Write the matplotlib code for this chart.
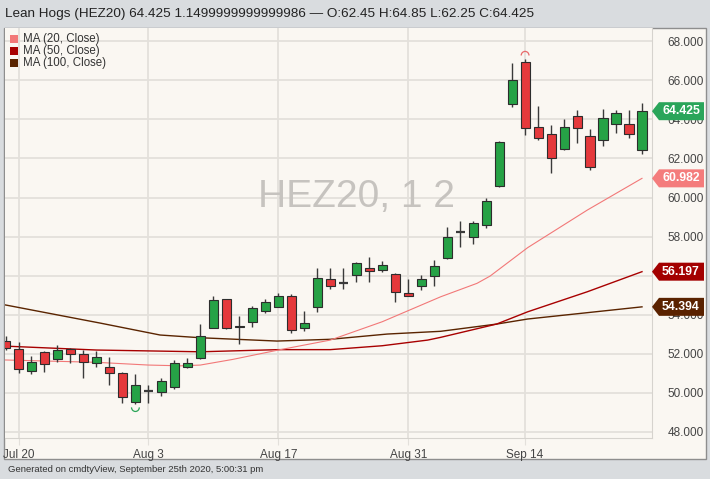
import matplotlib
matplotlib.use("Agg")
import matplotlib.pyplot as plt
from matplotlib.patches import Rectangle, Polygon, Arc
from matplotlib.transforms import IdentityTransform

# daily bars, Jul 17 -> Sep 25 2020 (index = trading day, Sep 7 holiday)
opens = [52.66, 52.22, 51.12, 52.06, 51.70, 52.22, 51.96, 51.50, 51.29, 50.98,
         49.50, 50.08, 50.04, 50.30, 51.29, 51.75, 53.32, 54.79, 53.34, 53.60,
         54.18, 54.37, 54.95, 53.32, 54.37, 55.81, 55.60, 56.03, 56.37, 56.28,
         56.06, 55.12, 55.46, 55.99, 56.88, 58.22, 57.96, 58.59, 60.59, 64.78,
         66.95, 63.60, 63.26, 62.47, 64.20, 63.17, 62.95, 63.75, 63.75, 62.45]
highs = [52.90, 52.60, 51.87, 52.14, 52.44, 52.27, 52.18, 52.14, 51.80, 51.04,
         50.95, 50.38, 50.73, 51.67, 51.75, 53.50, 54.95, 54.82, 53.92, 54.45,
         54.79, 55.09, 55.05, 54.18, 56.37, 56.37, 56.37, 56.68, 56.97, 56.74,
         56.14, 55.82, 56.05, 56.79, 58.50, 58.79, 58.79, 59.99, 62.90, 66.88,
         67.09, 64.69, 63.72, 64.03, 64.49, 63.51, 64.54, 64.49, 64.49, 64.85]
lows = [52.20, 51.00, 50.93, 51.07, 51.58, 51.50, 50.73, 51.29, 50.38, 49.45,
        49.41, 49.45, 49.83, 50.18, 51.24, 51.70, 53.30, 53.24, 52.48, 53.37,
        54.09, 54.37, 53.07, 53.17, 54.11, 55.29, 55.29, 55.68, 55.68, 56.20,
        54.66, 54.93, 55.24, 55.46, 56.85, 57.48, 57.62, 58.42, 60.55, 64.66,
        63.21, 62.95, 61.24, 62.45, 62.78, 61.41, 62.64, 63.29, 63.07, 62.25]
closes = [52.27, 51.19, 51.58, 51.48, 52.18, 51.96, 51.55, 51.84, 51.02, 49.78,
          50.41, 50.08, 50.58, 51.50, 51.50, 52.92, 54.74, 53.32, 53.40, 54.35,
          54.62, 54.95, 53.19, 53.56, 55.86, 55.46, 55.60, 56.66, 56.25, 56.56,
          55.17, 54.95, 55.81, 56.49, 57.96, 58.22, 58.68, 59.84, 62.86, 66.03,
          63.58, 63.04, 62.01, 63.60, 63.55, 61.55, 64.09, 64.35, 63.275, 64.425]

tick_pos = [1, 11, 21, 31, 40]
tick_labels = ["Jul 20", "Aug 3", "Aug 17", "Aug 31", "Sep 14"]
price_ticks = [48, 50, 52, 54, 56, 58, 60, 62, 64, 66, 68]

# moving averages (index, value)
ma20_idx = [0, 7, 11, 13.5, 15, 17.5, 21, 25, 29, 33.5, 36.3, 37.3, 40.2, 44.8, 49]
ma20_val = [51.67, 51.55, 51.41, 51.37, 51.41, 51.70, 52.18, 52.69, 53.63, 54.91,
            55.60, 55.97, 57.43, 59.36, 60.982]
ma50_idx = [0, 7, 15, 21, 25, 29, 32.5, 33.5, 37.8, 40.2, 44.8, 49]
ma50_val = [52.38, 52.18, 52.09, 52.20, 52.20, 52.40, 52.69, 52.83, 53.51, 54.14,
            55.17, 56.197]
ma100_idx = [0, 7.3, 11.9, 15, 20.9, 25, 29.4, 33.5, 37.8, 40.2, 49]
ma100_val = [54.49, 53.56, 52.95, 52.81, 52.64, 52.73, 53.00, 53.14, 53.51, 53.77, 54.394]

GREEN = "#26a246"
RED = "#e5393c"
C20, C50, C100 = "#f27878", "#a80000", "#5a2400"
BG = "#faf7f2"
GRID = "#e3e0db"
plt.rcParams["font.family"] = ["Liberation Sans", "DejaVu Sans"]

W, H = 710, 479
fig = plt.figure(figsize=(W / 100, H / 100), dpi=100, facecolor="#d9dcdf")

# chart box
fig.patches.append(Rectangle((4 / W, 20 / H), 702 / W, 431 / H, transform=fig.transFigure,
                             fc=BG, ec="#8e8e8e", lw=1, zorder=-5))

ax = fig.add_axes([5 / W, (H - 438) / H, 647 / W, 410 / H])
ax.set_zorder(1)
ax.set_facecolor(BG)
ax.set_xlim(-0.04, 49.77)
ax.set_ylim(47.67, 68.69)

# 56.000 sits fully under the MA50 tag, so it is left blank
ax.set_yticks(price_ticks)
ax.set_yticklabels(["" if p == 56 else f"{p:.3f}" for p in price_ticks])
ax.yaxis.tick_right()
ax.tick_params(axis="y", length=0, pad=11, labelsize=8.5, labelcolor="#444444")
ax.set_xticks(tick_pos)
ax.set_xticklabels(tick_labels)
ax.tick_params(axis="x", length=5, color=GRID, pad=3, labelsize=8.5, labelcolor="#444444")
ax.grid(True, color=GRID, lw=1.3, zorder=0)
ax.set_axisbelow(True)
for s in ["left", "top"]:
    ax.spines[s].set_visible(False)
ax.spines["right"].set_color("#d6d3ce")
ax.spines["bottom"].set_color("#d6d3ce")

# watermark
ax.text(27, 60.03, "HEZ20, 1 2", fontsize=28, color="#c6c3bf", ha="center", va="center", zorder=1)

# moving averages
ax.plot(ma100_idx, ma100_val, color=C100, lw=1.0, zorder=2)
ax.plot(ma50_idx, ma50_val, color=C50, lw=1.0, zorder=2)
ax.plot(ma20_idx, ma20_val, color=C20, lw=0.8, zorder=2)

# candles
for i, (o, h, l, c) in enumerate(zip(opens, highs, lows, closes)):
    ax.vlines(i, l, h, color="#3a3a3a", lw=1.0, zorder=3)
    if abs(c - o) < 0.03:
        ax.hlines(o, i - 0.35, i + 0.35, color="#3a3a3a", lw=1.6, zorder=4)
    else:
        ax.add_patch(Rectangle((i - 0.35, min(o, c)), 0.7, abs(c - o),
                               fc=GREEN if c > o else RED, ec="#2d2d2d", lw=0.8, zorder=4))

# high / low markers
ax.add_patch(Arc((40, 67.28), 0.6, 0.42, theta1=0, theta2=180, color="#e86a6a", lw=0.9, zorder=4))
ax.add_patch(Arc((10, 49.24), 0.6, 0.42, theta1=180, theta2=360, color="#2aa558", lw=0.9, zorder=4))

# value tags on the price scale
fig.canvas.draw()
for val, col in [(64.425, "#2aa55a"), (60.982, "#f47c7c"), (56.197, "#a30000"), (54.394, "#5a2200")]:
    yd = ax.transData.transform((0, val))[1]
    poly = Polygon([(652, yd), (659, yd + 9), (704, yd + 9), (704, yd - 9), (659, yd - 9)],
                   closed=True, fc=col, ec="none", transform=IdentityTransform(), zorder=10)
    fig.patches.append(poly)
    fig.text(681 / W, yd / H, f"{val:.3f}", color="white", fontsize=8.8, fontweight="bold",
             ha="center", va="center", zorder=11)

# legend
for k, (lab, col) in enumerate([("MA (20, Close)", C20), ("MA (50, Close)", C50), ("MA (100, Close)", C100)]):
    yc = 39 + 12.2 * k
    fig.patches.append(Rectangle((10 / W, (H - yc - 4) / H), 8 / W, 8 / H, transform=fig.transFigure,
                                 fc=col, ec="none", zorder=10))
    fig.text(23 / W, (H - yc) / H, lab, fontsize=8.3, color="#333333", va="center", zorder=11)

# title and footer
fig.text(5 / W, (H - 14) / H,
         "Lean Hogs (HEZ20) 64.425 1.1499999999999986 \u2014 O:62.45 H:64.85 L:62.25 C:64.425",
         fontsize=9.7, color="#222222", va="center")
fig.text(8 / W, (H - 469) / H, "Generated on cmdtyView, September 25th 2020, 5:00:31 pm",
         fontsize=6.8, color="#333333", va="center")

fig.savefig("out.png", dpi=100, facecolor=fig.get_facecolor())
